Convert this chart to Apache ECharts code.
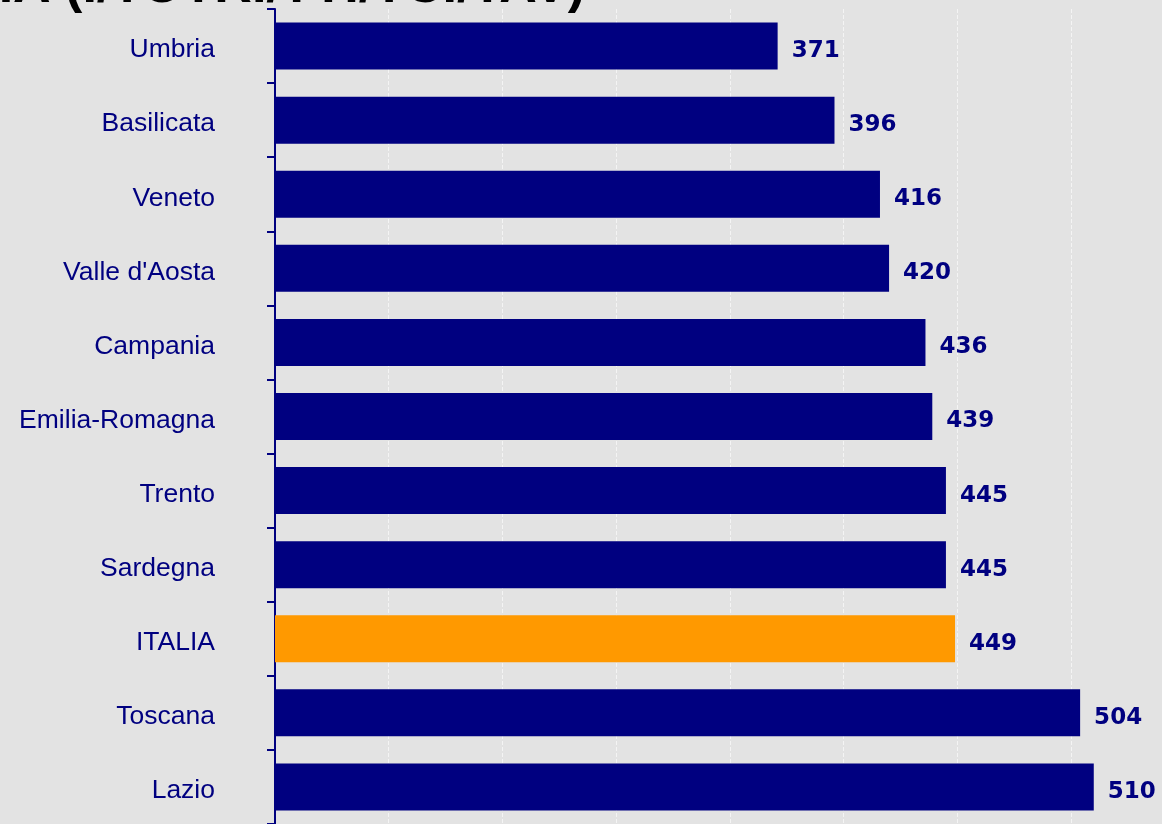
<!DOCTYPE html>
<html>
<head>
<meta charset="utf-8">
<script src="https://cdn.jsdelivr.net/npm/echarts@6/dist/echarts.min.js"></script>
<style>
  html, body { margin: 0; padding: 0; background: #e3e3e3; }
  #chart { width: 1162px; height: 824px; }
</style>
</head>
<body>
<div id="chart"></div>
<script>
var regions = ['Umbria', 'Basilicata', 'Veneto', "Valle d'Aosta", 'Campania', 'Emilia-Romagna',
    'Trento', 'Sardegna', 'ITALIA', 'Toscana', 'Lazio'];
var values = [371, 396, 416, 420, 436, 439, 445, 445, 449, 504, 510];
var highlight = 'ITALIA';
var titleText = 'MEDIA (I/TOTRI/TTI/TCI/TAV)';

var navy = '#000080';
var orange = '#ff9900';

var dom = document.getElementById('chart');
var myChart = echarts.init(dom);

var barData = values.map(function (v, i) {
    return {
        value: v,
        itemStyle: { color: regions[i] === highlight ? orange : navy }
    };
});

var option = {
    backgroundColor: '#e3e3e3',
    animation: false,
    graphic: [{
        type: 'text',
        x: 585,
        y: 14,
        style: {
            text: titleText,
            fill: '#000',
            font: 'bold 52px "Liberation Sans", Arial, sans-serif',
            textAlign: 'right',
            textVerticalAlign: 'bottom'
        },
        z: 10
    }],
    grid: {
        left: 275,
        right: 0,
        top: 9,
        height: 817
    },
    xAxis: {
        type: 'value',
        min: 150,
        max: 540,
        interval: 50,
        axisLine: { show: false },
        axisTick: { show: false },
        axisLabel: { show: false },
        splitLine: {
            show: true,
            lineStyle: { color: 'rgba(255,255,255,0.6)', type: 'dashed', width: 1 }
        }
    },
    yAxis: {
        type: 'category',
        inverse: true,
        data: regions,
        axisLine: { show: true, lineStyle: { color: navy, width: 2 } },
        axisTick: { show: true, length: 8, lineStyle: { color: navy, width: 2 } },
        axisLabel: {
            margin: 60,
            formatter: '{v|{value}}',
            rich: {
                v: {
                    color: navy,
                    fontFamily: '"Liberation Sans", Arial, sans-serif',
                    fontSize: 26.5,
                    padding: [8, 0, 0, 0]
                }
            }
        }
    },
    series: [{
        type: 'bar',
        data: barData,
        barWidth: 47,
        label: {
            show: true,
            position: 'right',
            distance: 14,
            offset: [0, 5],
            color: navy,
            fontFamily: '"DejaVu Sans", Verdana, sans-serif',
            fontWeight: 'bold',
            fontSize: 23
        }
    }]
};

myChart.setOption(option);
window.onresize = myChart.resize;
</script>
</body>
</html>
